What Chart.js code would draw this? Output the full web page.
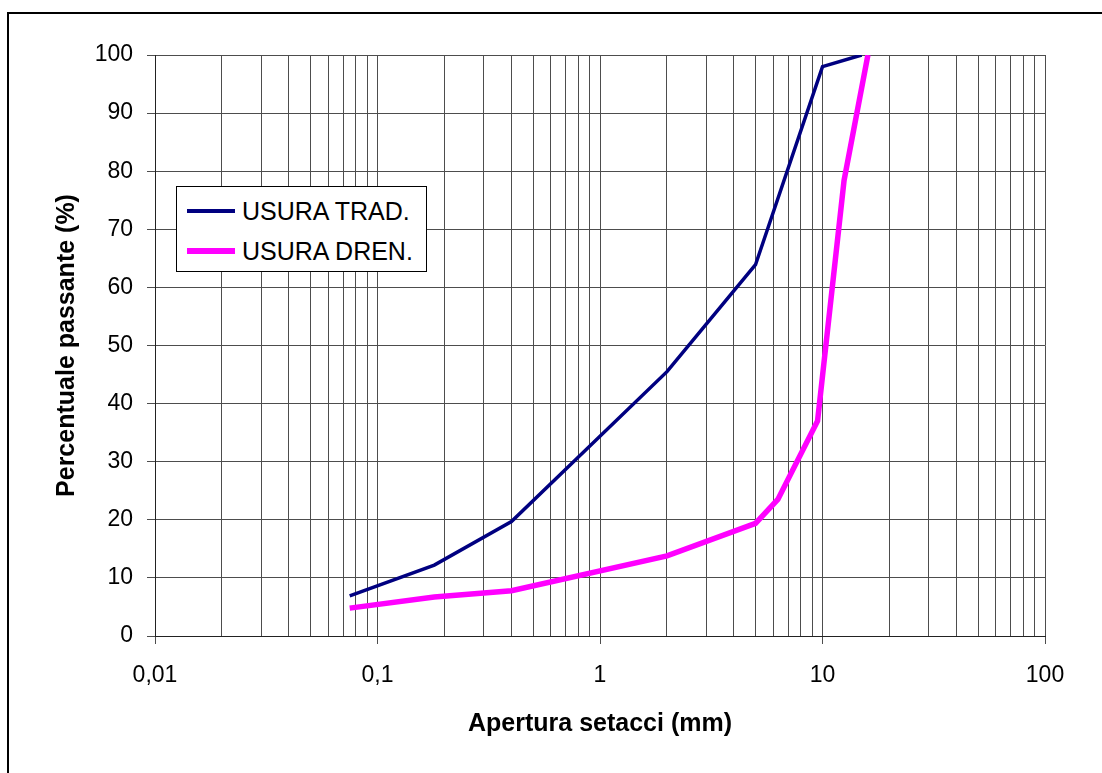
<!DOCTYPE html>
<html lang="it">

<head>
    <meta charset="UTF-8">
    <title>Curve granulometriche</title>
    <script src="https://cdn.jsdelivr.net/npm/chart.js"></script>
    <style>
        body {
            margin: 0;
            background: #fff;
        }

        .janela {
            position: relative;
            width: 1102px;
            height: 773px;
            overflow: hidden;
        }

        .cornice {
            position: absolute;
            left: 7px;
            top: 12px;
            width: 1200px;
            height: 900px;
            border-left: 2px solid #000;
            border-top: 2px solid #000;
        }

        #grafico {
            position: absolute;
            left: 0;
            top: 0;
        }

        .legenda {
            position: absolute;
            left: 176px;
            top: 186px;
            width: 251px;
            height: 86px;
            box-sizing: border-box;
            background: #fff;
            border: 1px solid #000;
            font-family: 'Liberation Sans', Arial, sans-serif;
            font-size: 25px;
            color: #000;
        }

        .voce {
            position: absolute;
            left: 10px;
            height: 30px;
            display: flex;
            align-items: center;
            white-space: nowrap;
        }

        .linea {
            width: 48px;
            margin-right: 7px;
        }
    </style>
</head>

<body>
    <div class="janela">
        <div class="cornice"></div>
        <canvas id="grafico" width="1102" height="773"></canvas>
        <div class="legenda" id="legenda"></div>
    </div>

    <script>
        // aperture dei setacci (mm) e percentuali passanti
        const setacciTrad = [0.075, 0.18, 0.4, 2, 5, 10, 15];
        const passanteTrad = [6.9, 12.2, 19.7, 45.5, 63.9, 98, 100];

        const setacciDren = [0.075, 0.18, 0.4, 2, 5, 6.3, 9.5, 12.5, 16];
        const passanteDren = [4.8, 6.7, 7.8, 13.8, 19.4, 23.5, 37, 78.4, 100];

        const nomiSerie = ['USURA TRAD.', 'USURA DREN.'];

        // etichette asse x (solo le decadi)
        const decadi = [0.01, 0.1, 1, 10, 100];
        const etichetteX = ['0,01', '0,1', '1', '10', '100'];

        const tickY = [0, 10, 20, 30, 40, 50, 60, 70, 80, 90, 100];

        function punti(xs, ys) {
            return xs.map(function (x, i) {
                return { x: x, y: ys[i] };
            });
        }

        const serie = [
            { label: nomiSerie[0], data: punti(setacciTrad, passanteTrad), borderColor: '#000080', borderWidth: 3.5 },
            { label: nomiSerie[1], data: punti(setacciDren, passanteDren), borderColor: '#FF00FF', borderWidth: 5.5 }
        ];

        Chart.defaults.font.family = "'Liberation Sans', Arial, sans-serif";
        Chart.defaults.color = '#000';

        const ctx = document.getElementById('grafico');
        new Chart(ctx, {
            type: 'line',
            data: {
                datasets: serie.map(function (s) {
                    return {
                        label: s.label,
                        data: s.data,
                        borderColor: s.borderColor,
                        backgroundColor: s.borderColor,
                        borderWidth: s.borderWidth,
                        pointRadius: 0,
                        tension: 0,
                        fill: false
                    };
                })
            },
            options: {
                responsive: false,
                animation: false,
                layout: {
                    padding: { top: 55, right: 57, left: 0, bottom: 0 }
                },
                plugins: {
                    legend: { display: false },
                    tooltip: { enabled: false }
                },
                scales: {
                    x: {
                        type: 'logarithmic',
                        min: 0.01,
                        max: 100,
                        afterBuildTicks: function (scale) {
                            const ticks = [];
                            for (let d = 0; d < decadi.length; d++) {
                                ticks.push({ value: decadi[d] });
                                if (d < decadi.length - 1) {
                                    for (let m = 2; m <= 9; m++) {
                                        ticks.push({ value: Number((m * decadi[d]).toPrecision(3)) });
                                    }
                                }
                            }
                            scale.ticks = ticks;
                        },
                        afterFit: function (scale) {
                            scale.height = 137;
                        },
                        ticks: {
                            autoSkip: false,
                            maxRotation: 0,
                            padding: 18,
                            font: { size: 23 },
                            callback: function (value) {
                                const i = decadi.indexOf(value);
                                return i >= 0 ? etichetteX[i] : '';
                            }
                        },
                        grid: {
                            color: '#4d4d4d',
                            lineWidth: 1,
                            tickLength: 8,
                            tickColor: function (c) {
                                return c.tick && decadi.indexOf(c.tick.value) >= 0 ? '#4d4d4d' : 'rgba(0,0,0,0)';
                            }
                        },
                        border: { color: '#222', width: 1 },
                        title: {
                            display: true,
                            text: 'Apertura setacci (mm)',
                            font: { size: 25, weight: 'bold' },
                            padding: { top: 0, bottom: 34 }
                        }
                    },
                    y: {
                        min: 0,
                        max: 100,
                        afterBuildTicks: function (scale) {
                            scale.ticks = tickY.map(function (v) { return { value: v }; });
                        },
                        afterFit: function (scale) {
                            scale.width = 155;
                        },
                        ticks: {
                            padding: 14,
                            font: { size: 23 }
                        },
                        grid: {
                            color: '#4d4d4d',
                            lineWidth: 1,
                            tickLength: 8,
                            tickColor: '#4d4d4d'
                        },
                        border: { color: '#222', width: 1 },
                        title: {
                            display: true,
                            text: 'Percentuale passante (%)',
                            font: { size: 25, weight: 'bold' },
                            padding: { top: 52, bottom: 0 }
                        }
                    }
                }
            }
        });

        // legenda nel riquadro come nell'originale
        const legenda = document.getElementById('legenda');
        const topVoci = [9, 49];
        serie.forEach(function (s, i) {
            const voce = document.createElement('div');
            voce.className = 'voce';
            voce.style.top = topVoci[i] + 'px';
            const linea = document.createElement('span');
            linea.className = 'linea';
            linea.style.height = Math.round(s.borderWidth) + 'px';
            linea.style.background = s.borderColor;
            const testo = document.createElement('span');
            testo.textContent = s.label;
            voce.appendChild(linea);
            voce.appendChild(testo);
            legenda.appendChild(voce);
        });
    </script>
</body>

</html>
